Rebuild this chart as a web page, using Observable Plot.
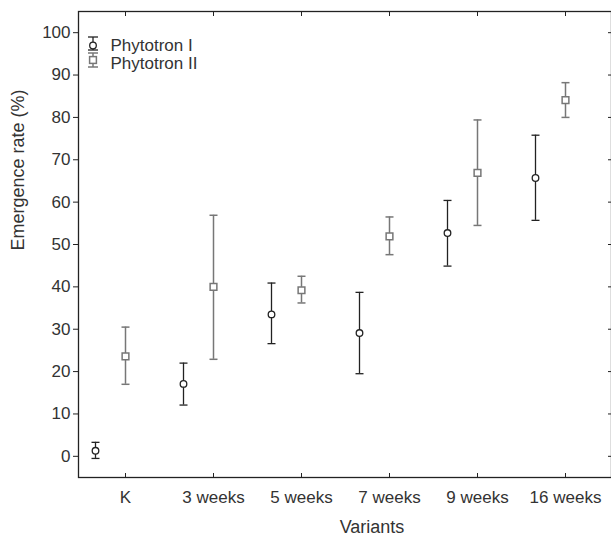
<!DOCTYPE html>
<html>
<head>
<meta charset="utf-8">
<script src="https://cdn.jsdelivr.net/npm/d3@7"></script>
<script src="https://cdn.jsdelivr.net/npm/@observablehq/plot@0.6"></script>
<style>
  html, body { margin: 0; padding: 0; background: #fff; }
  #chart { width: 611px; height: 537px; }
</style>
</head>
<body>
<div id="chart"></div>
<script>
const categories = ["K", "3 weeks", "5 weeks", "7 weeks", "9 weeks", "16 weeks"];
const seriesNames = ["Phytotron I", "Phytotron II"];
const p1Mean = [1.3, 17.1, 33.5, 29.1, 52.7, 65.7];
const p1Low  = [-0.5, 12.1, 26.6, 19.5, 44.9, 55.7];
const p1High = [3.3, 22.0, 40.9, 38.7, 60.4, 75.8];
const p2Mean = [23.6, 40.0, 39.2, 51.9, 66.9, 84.1];
const p2Low  = [17.0, 22.9, 36.2, 47.6, 54.5, 80.0];
const p2High = [30.5, 56.9, 42.5, 56.5, 79.4, 88.2];
const yTicks = [0, 10, 20, 30, 40, 50, 60, 70, 80, 90, 100];

const s1 = categories.map((c, i) => ({cat: c, mean: p1Mean[i], lo: p1Low[i], hi: p1High[i]}));
const s2 = categories.map((c, i) => ({cat: c, mean: p2Mean[i], lo: p2Low[i], hi: p2High[i]}));

const c1 = "#222";
const c2 = "#777";
const capSymbol = {
  draw(ctx, size) {
    const r = Math.sqrt(size / Math.PI);
    ctx.moveTo(-r, 0);
    ctx.lineTo(r, 0);
  }
};
const off1 = -30;
const noText = () => "";

function errorMarks(data, color, dx, symbol, r, sw) {
  return [
    Plot.ruleX(data, {x: "cat", y1: "lo", y2: "hi", stroke: color, strokeWidth: sw, dx}),
    Plot.dot(data, {x: "cat", y: "lo", symbol: capSymbol, r: 4, stroke: color, strokeWidth: sw, dx}),
    Plot.dot(data, {x: "cat", y: "hi", symbol: capSymbol, r: 4, stroke: color, strokeWidth: sw, dx}),
    Plot.dot(data, {x: "cat", y: "mean", symbol, r, stroke: color, fill: "white", strokeWidth: sw, dx})
  ];
}

const chart = Plot.plot({
  width: 611,
  height: 537,
  marginLeft: 78,
  marginRight: 0,
  marginTop: 11,
  marginBottom: 60,
  style: {fontFamily: "'Liberation Sans', Arial, sans-serif", fontSize: "17px", color: "#333", background: "white"},
  x: {type: "point", domain: categories, padding: 0.5},
  y: {domain: [-5, 105]},
  marks: [
    Plot.axisY({anchor: "left", ticks: yTicks, tickSize: 5, tickPadding: 3, label: null, stroke: "#222"}),
    Plot.axisY({anchor: "right", ticks: yTicks, tickSize: -4, tickFormat: noText, label: null, stroke: "#222"}),
    Plot.axisX({anchor: "bottom", tickSize: 0, tickPadding: 13, label: null}),
    Plot.axisX({anchor: "bottom", tickSize: -4, tickFormat: noText, label: null, stroke: "#222"}),
    Plot.axisX({anchor: "top", tickSize: -4, tickFormat: noText, label: null, stroke: "#222"}),
    Plot.frame({stroke: "#222", strokeWidth: 1.3}),
    Plot.text(["Variants"], {frameAnchor: "bottom", dx: 27, dy: 50, lineAnchor: "middle", fontSize: 18, fill: "#333"}),
    Plot.text(["Emergence rate (%)"], {frameAnchor: "left", rotate: -90, dx: -60, dy: 6, lineAnchor: "middle", fontSize: 18, fill: "#333"}),
    ...errorMarks(s2, c2, 0, "square", 3.8, 1.5),
    ...errorMarks(s1, c1, off1, "circle", 3.3, 1.3),
    Plot.text([seriesNames[0]], {frameAnchor: "top-left", dx: 32, dy: 34, lineAnchor: "middle", textAnchor: "start", fontSize: 17, fill: "#333"}),
    Plot.text([seriesNames[1]], {frameAnchor: "top-left", dx: 32, dy: 52, lineAnchor: "middle", textAnchor: "start", fontSize: 17, fill: "#333"})
  ]
});
document.getElementById("chart").appendChild(chart);

// legend glyphs
const svg = d3.select(chart);
const lg = svg.append("g").attr("fill", "none");
const gx = 93;
function glyph(color, top, mid, bottom, kind, sw) {
  lg.append("line").attr("x1", gx).attr("x2", gx).attr("y1", top).attr("y2", bottom).attr("stroke", color).attr("stroke-width", sw);
  lg.append("line").attr("x1", gx - 5).attr("x2", gx + 5).attr("y1", top).attr("y2", top).attr("stroke", color).attr("stroke-width", sw);
  lg.append("line").attr("x1", gx - 5).attr("x2", gx + 5).attr("y1", bottom).attr("y2", bottom).attr("stroke", color).attr("stroke-width", sw);
  if (kind === "circle") {
    lg.append("circle").attr("cx", gx).attr("cy", mid).attr("r", 3.3).attr("fill", "white").attr("stroke", color).attr("stroke-width", sw);
  } else {
    lg.append("rect").attr("x", gx - 3.4).attr("y", mid - 3.4).attr("width", 6.8).attr("height", 6.8).attr("fill", "white").attr("stroke", color).attr("stroke-width", sw);
  }
}
glyph(c1, 37, 45.5, 50, "circle", 1.3);
glyph(c2, 53, 60, 67, "square", 1.5);
</script>
</body>
</html>
